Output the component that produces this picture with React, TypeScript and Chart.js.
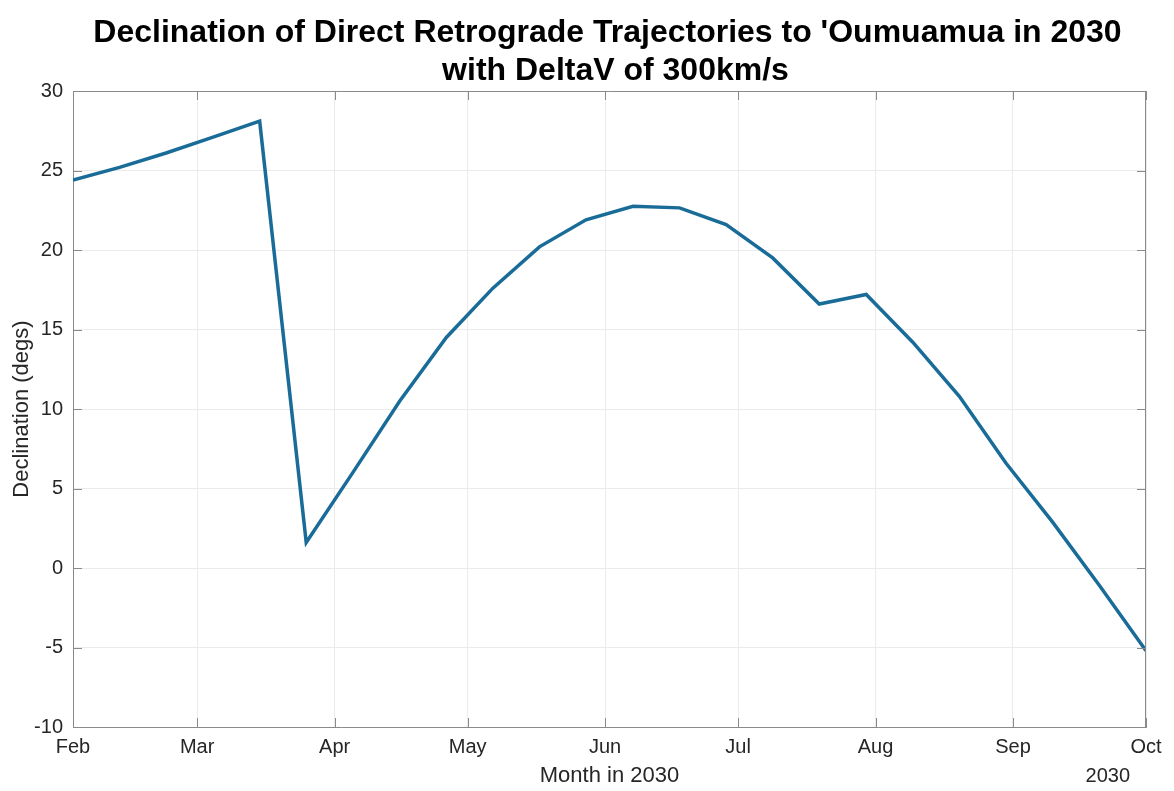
import React, { useEffect, useRef } from "react";
import { Chart, registerables } from "chart.js";

Chart.register(...registerables);

// Days since 1 Feb 2030 for each trajectory sample
const SAMPLE_DAYS = [
  0, 10.5, 21.0, 31.6, 42.1, 52.6, 63.1, 73.7, 84.2, 94.7, 105.2, 115.7,
  126.3, 136.8, 147.3, 157.8, 168.3, 178.9, 189.4, 199.9, 210.4, 220.9, 231.5, 242,
];
// Declination (degrees)
const DECLINATION = [
  24.4, 25.2, 26.1, 27.1, 28.1, 1.6, 6.0, 10.5, 14.5, 17.6, 20.2, 21.9,
  22.75, 22.65, 21.6, 19.5, 16.6, 17.2, 14.2, 10.8, 6.6, 2.9, -1.1, -5.2,
];
// Month tick positions (days since 1 Feb 2030) and labels
const MONTH_DAYS = [0, 28, 59, 89, 120, 150, 181, 212, 242];
const MONTH_LABELS = ["Feb", "Mar", "Apr", "May", "Jun", "Jul", "Aug", "Sep", "Oct"];
const Y_TICKS = [-10, -5, 0, 5, 10, 15, 20, 25, 30];

const TITLE_LINES = [
  "Declination of Direct Retrograde Trajectories to 'Oumuamua in 2030",
  "with DeltaV of 300km/s",
];
const X_LABEL = "Month in 2030";
const X_SECONDARY = "2030";
const Y_LABEL = "Declination (degs)";

const FONT = "'Liberation Sans', Arial, Helvetica, sans-serif";
const TEXT_COLOR = "#262626";
const AXIS_COLOR = "#8a8a8a";

const decorPlugin = {
  id: "decor",
  afterDraw(chart: any) {
    const { ctx, chartArea } = chart;
    const { left, right, top, bottom } = chartArea;
    const xs = chart.scales.x;
    const ys = chart.scales.y;
    ctx.save();
    // box top & right
    ctx.strokeStyle = AXIS_COLOR;
    ctx.lineWidth = 1;
    ctx.beginPath();
    ctx.moveTo(left, top + 0.5);
    ctx.lineTo(right, top + 0.5);
    ctx.moveTo(right - 0.5, top);
    ctx.lineTo(right - 0.5, bottom);
    ctx.stroke();
    // inner ticks
    const tl = 9;
    ctx.beginPath();
    Y_TICKS.forEach((v) => {
      const y = Math.round(ys.getPixelForValue(v)) + 0.5;
      ctx.moveTo(left, y);
      ctx.lineTo(left + tl, y);
      ctx.moveTo(right, y);
      ctx.lineTo(right - tl, y);
    });
    MONTH_DAYS.forEach((v) => {
      const x = Math.round(xs.getPixelForValue(v)) + 0.5;
      ctx.moveTo(x, bottom);
      ctx.lineTo(x, bottom - tl);
      ctx.moveTo(x, top);
      ctx.lineTo(x, top + tl);
    });
    ctx.stroke();

    const cx = (left + right) / 2;
    // title
    ctx.fillStyle = "#000";
    ctx.font = `bold 32px ${FONT}`;
    ctx.textAlign = "center";
    ctx.textBaseline = "alphabetic";
    ctx.fillText(TITLE_LINES[0], cx - 2, 42);
    ctx.fillText(TITLE_LINES[1], cx + 6, 80);

    // axis labels
    ctx.fillStyle = TEXT_COLOR;
    ctx.font = `22px ${FONT}`;
    ctx.textBaseline = "middle";
    ctx.fillText(X_LABEL, cx, 776);
    ctx.save();
    ctx.translate(22, (top + bottom) / 2);
    ctx.rotate(-Math.PI / 2);
    ctx.textAlign = "center";
    ctx.fillText(Y_LABEL, 0, 0);
    ctx.restore();
    ctx.font = `20px ${FONT}`;
    ctx.textAlign = "right";
    ctx.fillText(X_SECONDARY, right - 16, 776);
    ctx.restore();
  },
};

export default function App() {
  const ref = useRef<HTMLCanvasElement | null>(null);
  useEffect(() => {
    if (!ref.current) return;
    const chart = new Chart(ref.current, {
      type: "line",
      data: {
        datasets: [
          {
            data: SAMPLE_DAYS.map((d, i) => ({ x: d, y: DECLINATION[i] })),
            borderColor: "#1a6c98",
            borderWidth: 3.5,
            pointRadius: 0,
            tension: 0,
            fill: false,
            borderJoinStyle: "miter",
          },
        ],
      },
      options: {
        animation: false,
        responsive: false,
        devicePixelRatio: 1,
        layout: { padding: { top: 91, right: 28, left: 0, bottom: 0 } },
        plugins: { legend: { display: false }, tooltip: { enabled: false }, title: { display: false } },
        scales: {
          x: {
            type: "linear",
            min: 0,
            max: 242,
            afterBuildTicks: (s: any) => {
              s.ticks = MONTH_DAYS.map((v) => ({ value: v }));
            },
            afterFit: (s: any) => {
              s.height = 64;
            },
            ticks: {
              autoSkip: false,
              maxRotation: 0,
              padding: 8,
              color: TEXT_COLOR,
              font: { family: FONT, size: 20 },
              callback: (v: any) => MONTH_LABELS[MONTH_DAYS.indexOf(Number(v))] ?? "",
            },
            grid: { color: "#ebebeb", drawTicks: false, lineWidth: 1 },
            border: { color: AXIS_COLOR, width: 1 },
          },
          y: {
            min: -10,
            max: 30,
            afterBuildTicks: (s: any) => {
              s.ticks = Y_TICKS.map((v) => ({ value: v }));
            },
            afterFit: (s: any) => {
              s.width = 73;
            },
            ticks: {
              padding: 10,
              color: TEXT_COLOR,
              font: { family: FONT, size: 20 },
            },
            grid: { color: "#ebebeb", drawTicks: false, lineWidth: 1 },
            border: { color: AXIS_COLOR, width: 1 },
          },
        },
      } as any,
      plugins: [decorPlugin],
    });
    return () => chart.destroy();
  }, []);
  return (
    <div style={{ position: "fixed", left: 0, top: 0, width: 1174, height: 791, background: "#fff" }}>
      <canvas ref={ref} width={1174} height={791} style={{ width: 1174, height: 791, display: "block" }} />
    </div>
  );
}
